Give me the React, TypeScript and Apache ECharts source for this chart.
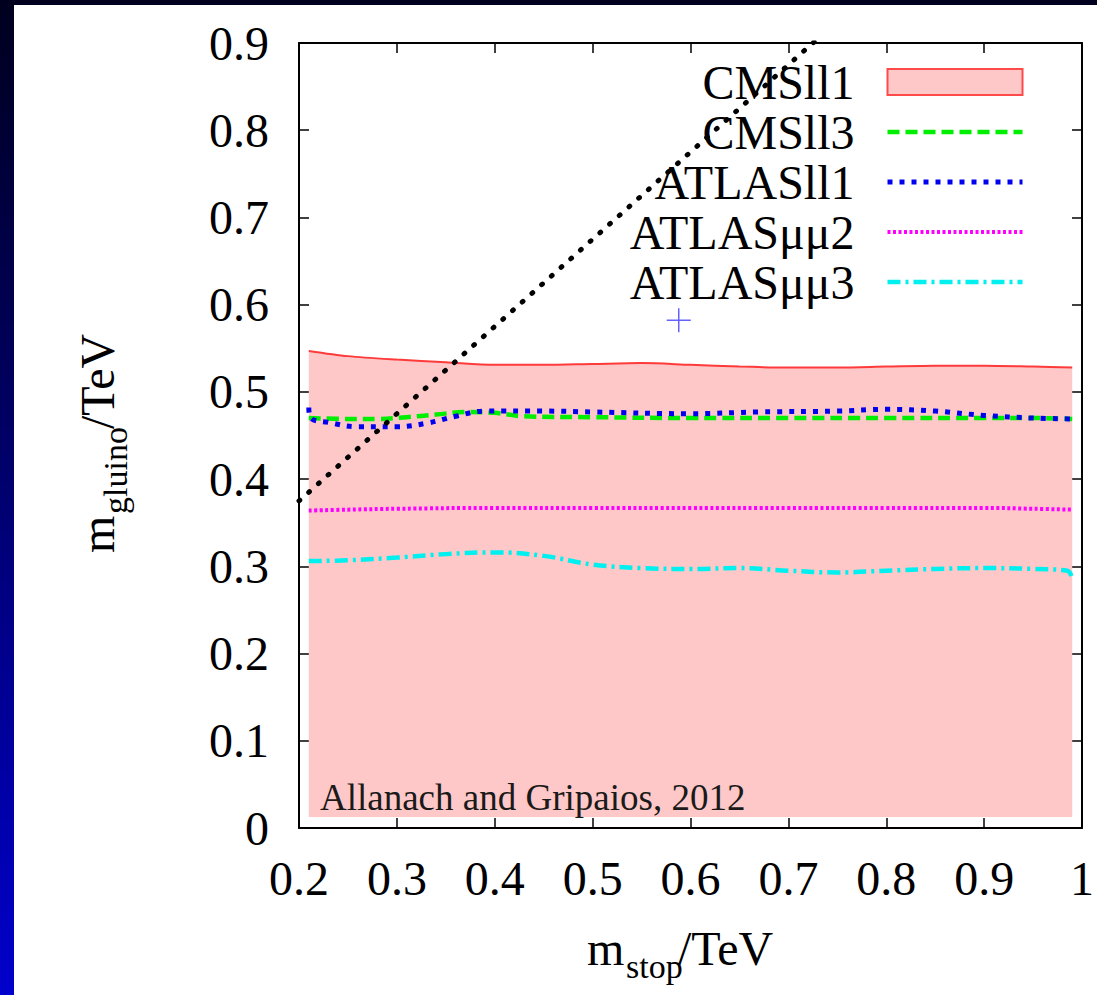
import React, { useEffect, useRef } from "react";
import * as echarts from "echarts";

const FONT = '"Liberation Serif", "Times New Roman", serif';

// x ticks / y ticks
const xTicks = [0.2, 0.3, 0.4, 0.5, 0.6, 0.7, 0.8, 0.9, 1];
const yTicks = [0, 0.1, 0.2, 0.3, 0.4, 0.5, 0.6, 0.7, 0.8, 0.9];

const legendNames = ["CMSll1", "CMSll3", "ATLASll1", "ATLASμμ2", "ATLASμμ3"];

// CMSll1 excluded region (upper boundary)
const cmsll1X = [0.21, 0.25, 0.3, 0.35, 0.4, 0.45, 0.5, 0.55, 0.6, 0.65, 0.7, 0.75, 0.8, 0.85, 0.9, 0.95, 0.99];
const cmsll1Y = [0.547, 0.541, 0.537, 0.534, 0.531, 0.531, 0.532, 0.533, 0.531, 0.529, 0.528, 0.528, 0.529, 0.53, 0.53, 0.529, 0.528];
const cmsll1Base = 0.0125;

const cmsll3X = [0.21, 0.25, 0.28, 0.31, 0.34, 0.37, 0.4, 0.43, 0.5, 0.6, 0.7, 0.8, 0.9, 0.95, 0.99];
const cmsll3Y = [0.47, 0.469, 0.469, 0.471, 0.474, 0.477, 0.476, 0.472, 0.471, 0.47, 0.47, 0.47, 0.47, 0.47, 0.469];

const atlasll1X = [0.21, 0.212, 0.23, 0.26, 0.3, 0.33, 0.36, 0.39, 0.45, 0.5, 0.6, 0.67, 0.75, 0.8, 0.85, 0.9, 0.95, 0.99];
const atlasll1Y = [0.482, 0.47, 0.465, 0.46, 0.46, 0.464, 0.472, 0.478, 0.478, 0.477, 0.475, 0.477, 0.478, 0.48, 0.478, 0.473, 0.47, 0.469];

const atlasmm2X = [0.21, 0.25, 0.3, 0.4, 0.5, 0.6, 0.7, 0.8, 0.9, 0.95, 0.99];
const atlasmm2Y = [0.364, 0.365, 0.366, 0.367, 0.367, 0.367, 0.367, 0.367, 0.367, 0.366, 0.365];

const atlasmm3X = [0.21, 0.25, 0.3, 0.35, 0.4, 0.45, 0.5, 0.55, 0.6, 0.65, 0.7, 0.75, 0.8, 0.85, 0.9, 0.95, 0.985, 0.99];
const atlasmm3Y = [0.306, 0.307, 0.31, 0.314, 0.316, 0.312, 0.302, 0.298, 0.297, 0.298, 0.295, 0.293, 0.295, 0.297, 0.298, 0.297, 0.295, 0.285];

// kinematic limit m_gluino = m_stop + m_top (clipped at the frame)
const kinX = [0.2, 0.74];
const kinY = [0.375, 0.915];

// best-fit marker
const markerX = [0.588];
const markerY = [0.582];

const zip = (xs: number[], ys: number[]) => xs.map((x, i) => [x, ys[i]]);

const fmt = (v: number) => String(Math.round(v * 10) / 10);

const GREEN = "#00ee00";
const BLUE = "#0000ee";
const MAGENTA = "#ff00ff";
const CYAN = "#00f0f0";

const greenLine = { color: GREEN, width: 4.5, type: [12, 6] };
const blueLine = { color: BLUE, width: 5, type: [5, 7] };
const magentaLine = { color: MAGENTA, width: 4, type: [3, 2.5] };
const cyanLine = { color: CYAN, width: 4.5, type: [13, 5, 3, 5] };

export default function App() {
  const ref = useRef<HTMLDivElement>(null);

  useEffect(() => {
    if (!ref.current) return;
    const chart = echarts.init(ref.current, null, { renderer: "svg" });

    const baseX = {
      type: "value",
      min: xTicks[0],
      max: xTicks[xTicks.length - 1],
      interval: 0.1,
      axisLine: { show: true, onZero: false, lineStyle: { color: "#000", width: 2 } },
      axisTick: { show: true, inside: true, length: 10, lineStyle: { color: "#000", width: 1.5 } },
      splitLine: { show: false },
    };
    const baseY = {
      type: "value",
      min: yTicks[0],
      max: yTicks[yTicks.length - 1],
      interval: 0.1,
      axisLine: { show: true, onZero: false, lineStyle: { color: "#000", width: 2 } },
      axisTick: { show: true, inside: true, length: 10, lineStyle: { color: "#000", width: 1.5 } },
      splitLine: { show: false },
    };
    const labelStyle = { fontSize: 48, fontFamily: FONT, color: "#000" };

    const titleText = (t: string, x: number, y: number, size: number) => ({
      type: "text",
      x,
      y,
      style: {
        text: t,
        fontSize: size,
        fontFamily: FONT,
        fill: "#000",
        align: "left",
        verticalAlign: "middle",
        textAlign: "left",
        textVerticalAlign: "middle",
      },
    });

    const hidden = { color: "rgba(0,0,0,0)", borderColor: "rgba(0,0,0,0)", borderWidth: 0, opacity: 0 };

    const option: any = {
      animation: false,
      backgroundColor: "transparent",
      grid: { left: 299, top: 43, width: 785, height: 785, containLabel: false },
      xAxis: [
        { ...baseX, position: "bottom", axisLabel: { ...labelStyle, margin: 26, formatter: fmt } },
        { ...baseX, position: "top", axisLabel: { show: false } },
      ],
      yAxis: [
        { ...baseY, position: "left", axisLabel: { ...labelStyle, margin: 30, formatter: fmt } },
        { ...baseY, position: "right", axisLabel: { show: false } },
      ],
      legend: {
        data: [
          { name: legendNames[0], icon: "rect", itemStyle: { color: "#ffc8c8", borderColor: "#ff4a4a", borderWidth: 2 } },
          { name: legendNames[1], itemStyle: hidden, lineStyle: { ...greenLine } },
          { name: legendNames[2], itemStyle: hidden, lineStyle: { ...blueLine } },
          { name: legendNames[3], itemStyle: hidden, lineStyle: { ...magentaLine } },
          { name: legendNames[4], itemStyle: hidden, lineStyle: { ...cyanLine } },
        ],
        orient: "vertical",
        align: "right",
        right: 72,
        top: 57,
        padding: 0,
        itemGap: 0,
        itemWidth: 135,
        itemHeight: 26,
        selectedMode: false,
        textStyle: { fontSize: 48, fontFamily: FONT, color: "#000", lineHeight: 50, padding: [0, 28, 0, 0] },
      },
      series: [
        {
          name: legendNames[0],
          type: "line",
          data: zip(cmsll1X, cmsll1Y),
          symbol: "none",
          smooth: 0.3,
          lineStyle: { color: "#ff3a3a", width: 2 },
          itemStyle: { color: "#ff3a3a" },
          areaStyle: { color: "#ffc8c8", opacity: 1, origin: cmsll1Base },
          z: 1,
        },
        {
          name: legendNames[1],
          type: "line",
          data: zip(cmsll3X, cmsll3Y),
          symbol: "none",
          smooth: 0.4,
          lineStyle: greenLine,
          itemStyle: { color: GREEN },
          z: 3,
        },
        {
          name: legendNames[2],
          type: "line",
          data: zip(atlasll1X, atlasll1Y),
          symbol: "none",
          smooth: 0.4,
          lineStyle: blueLine,
          itemStyle: { color: BLUE },
          z: 4,
        },
        {
          name: legendNames[3],
          type: "line",
          data: zip(atlasmm2X, atlasmm2Y),
          symbol: "none",
          smooth: 0.4,
          lineStyle: magentaLine,
          itemStyle: { color: MAGENTA },
          z: 3,
        },
        {
          name: legendNames[4],
          type: "line",
          data: zip(atlasmm3X, atlasmm3Y),
          symbol: "none",
          smooth: 0.4,
          lineStyle: cyanLine,
          itemStyle: { color: CYAN },
          z: 3,
        },
        {
          name: "kinematic",
          type: "line",
          data: zip(kinX, kinY),
          symbol: "none",
          clip: true,
          lineStyle: { color: "#000", width: 5, type: [1, 12], cap: "round" },
          itemStyle: { color: "#000" },
          z: 5,
        },
        {
          name: "marker",
          type: "scatter",
          data: zip(markerX, markerY),
          symbol: "path://M10,0L10,20M0,10L20,10",
          symbolSize: 24,
          itemStyle: { color: "rgba(0,0,0,0)", borderColor: "#3c3cff", borderWidth: 1.5 },
          z: 5,
        },
      ],
      graphic: [
        {
          type: "group",
          x: 587,
          y: 948,
          children: [
            titleText("m", 0, 0, 48),
            titleText("stop", 39, 18, 34),
            titleText("/TeV", 91, 0, 48),
          ],
        },
        {
          type: "group",
          x: 97,
          y: 553,
          rotation: Math.PI / 2,
          children: [
            titleText("m", 0, 0, 48),
            titleText("gluino", 39, 18, 34),
            titleText("/TeV", 124, 0, 48),
          ],
        },
        {
          type: "text",
          left: 320,
          top: 779,
          z: 10,
          style: { text: "Allanach and Gripaios, 2012", fontSize: 37, fontFamily: FONT, fill: "#1a1a1a" },
        },
      ],
    };

    chart.setOption(option);
    return () => chart.dispose();
  }, []);

  return (
    <div
      style={{
        position: "absolute",
        left: 0,
        top: 0,
        width: 1097,
        height: 995,
        background: "linear-gradient(to bottom, #00001e 0%, #000070 50%, #0000cc 100%)",
        overflow: "hidden",
      }}
    >
      <div style={{ position: "absolute", left: 14, top: 5, right: 0, bottom: 0, background: "#fff" }} />
      <div ref={ref} style={{ position: "absolute", left: 0, top: 0, width: 1097, height: 995 }} />
    </div>
  );
}
